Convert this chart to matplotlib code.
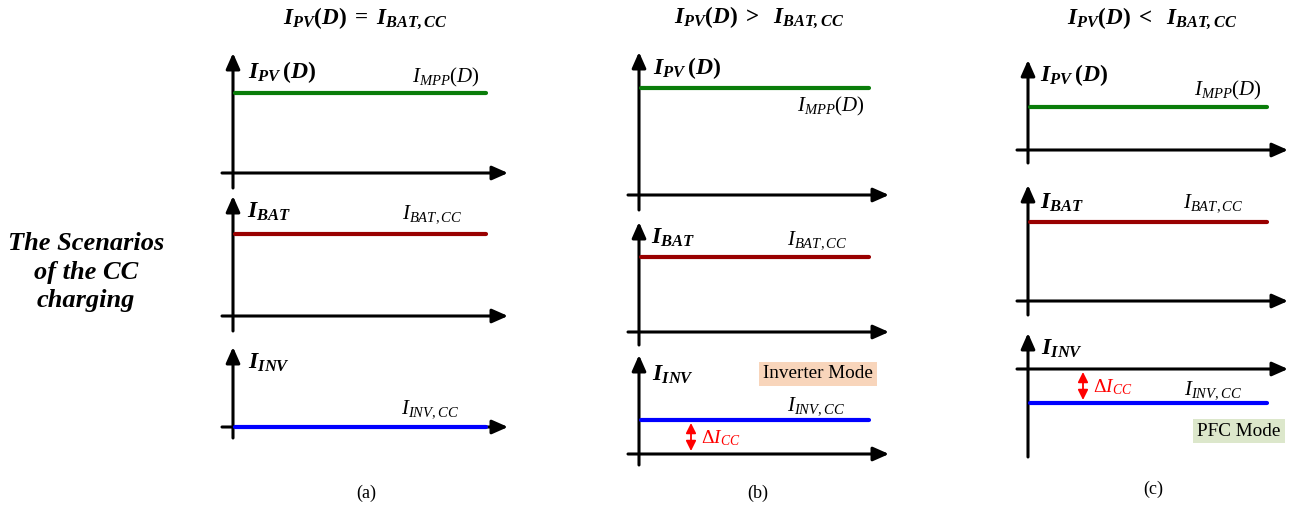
import matplotlib
matplotlib.use("Agg")
import matplotlib.pyplot as plt

plt.rcParams.update({
    "font.family": "Liberation Serif",
    "mathtext.fontset": "custom",
    "mathtext.rm": "Liberation Serif",
    "mathtext.it": "Liberation Serif:italic",
    "mathtext.bf": "Liberation Serif:bold",
    "mathtext.bfit": "Liberation Serif:italic:bold",
})

## scenario data
captions = ["(a)", "(b)", "(c)"]
titles = [
    r"$\mathbfit{I}_{\mathbfit{PV}}\mathbf{(}\mathbfit{D}\mathbf{)}\ \mathbf{=}\ \mathbfit{I}_{\mathbfit{BAT,CC}}$",
    r"$\mathbfit{I}_{\mathbfit{PV}}\mathbf{(}\mathbfit{D}\mathbf{)}\ \mathbf{>}\ \ \mathbfit{I}_{\mathbfit{BAT,CC}}$",
    r"$\mathbfit{I}_{\mathbfit{PV}}\mathbf{(}\mathbfit{D}\mathbf{)}\ \mathbf{<}\ \ \mathbfit{I}_{\mathbfit{BAT,CC}}$",
]
signal_names = [r"$\mathbfit{I}_{\mathbfit{PV}}\,\mathbf{(}\mathbfit{D}\mathbf{)}$",
                r"$\mathbfit{I}_{\mathbfit{BAT}}$",
                r"$\mathbfit{I}_{\mathbfit{INV}}$"]
level_names = [r"$I_{MPP}(D)$", r"$I_{BAT,CC}$", r"$I_{INV,CC}$"]
colors = ["#0a7d0a", "#990000", "#0000ff"]

# current levels above each zero axis (schematic units)
i_pv = [80, 107, 43]
i_bat = [82, 75, 79]
i_inv = [0, 34, -34]
modes = [None, "Inverter Mode", "PFC Mode"]
mode_colors = [None, "#f8d5bb", "#dce7cb"]

## layout (pixels)
col_x = [233, 639, 1028]
axis_left = [222, 628, 1017]
axis_tip = [508, 889, 1288]
line_end = [486, 869, 1267]
zero_y = [[173, 316, 427], [195, 332, 454], [150, 301, 369]]
tip_y = [[53, 196, 347], [52, 222, 355], [60, 185, 333]]
foot_y = [[188, 331, 438], [210, 345, 465], [163, 315, 457]]
name_pos = [[(248, 72), (247, 212), (248, 363)],
            [(653, 68), (651, 238), (652, 375)],
            [(1040, 75), (1040, 203), (1041, 349)]]
value_pos = [[(480, 77), (462, 214), (459, 409)],
             [(865, 106), (847, 240), (845, 406)],
             [(1262, 90), (1243, 203), (1242, 390)]]
title_pos = [(365, 18), (759, 17), (1152, 18)]
caption_pos = [(366, 493), (758, 493), (1153, 489)]
delta_x = [None, 691, 1083]
mode_pos = [None, (818, 374), (1239, 431)]

fig = plt.figure(figsize=(12.96, 5.12), dpi=100)
ax = fig.add_axes([0, 0, 1, 1])
ax.set_xlim(0, 1296)
ax.set_ylim(512, 0)
ax.axis("off")

arrow = dict(arrowstyle="-|>,head_length=0.95,head_width=0.42", color="k",
             lw=2.2, mutation_scale=10, shrinkA=0, shrinkB=0)

for c in range(3):
    levels = [i_pv[c], i_bat[c], i_inv[c]]
    for r in range(3):
        y0 = zero_y[c][r]
        # axes
        ax.annotate("", xy=(axis_tip[c], y0), xytext=(axis_left[c], y0), arrowprops=arrow)
        ax.annotate("", xy=(col_x[c], tip_y[c][r]), xytext=(col_x[c], foot_y[c][r]), arrowprops=arrow)
        # constant current level
        yl = y0 - levels[r]
        ax.plot([col_x[c] + 2, line_end[c]], [yl, yl], color=colors[r], lw=3.0,
                solid_capstyle="round", zorder=5)
        ax.text(*name_pos[c][r], signal_names[r], fontsize=17, ha="left", va="center")
        ax.text(*value_pos[c][r], level_names[r], fontsize=15, ha="right", va="center")

    ax.text(*title_pos[c], titles[c], fontsize=16.7, ha="center", va="center")
    ax.text(*caption_pos[c], captions[c], fontsize=13, ha="center", va="center")

    if modes[c]:
        # inverter current offset
        y0 = zero_y[c][2]
        yl = y0 - i_inv[c]
        s = 1 if yl > y0 else -1
        ax.annotate("", xy=(delta_x[c], yl - 3 * s), xytext=(delta_x[c], y0 + 3 * s),
                    arrowprops=dict(arrowstyle="<|-|>,head_length=0.6,head_width=0.3",
                                    color="red", lw=1.3, mutation_scale=10,
                                    shrinkA=0, shrinkB=0))
        ax.text(delta_x[c] + 10, (y0 + yl) / 2 + 1, r"$\Delta I_{CC}$", color="red",
                fontsize=14, ha="left", va="center")
        ax.text(*mode_pos[c], modes[c], fontsize=13.8, ha="center", va="center",
                bbox=dict(boxstyle="square,pad=0.2", fc=mode_colors[c], ec="none"))

ax.text(86, 272, "The Scenarios\nof the CC\ncharging", fontsize=19, fontweight="bold",
        fontstyle="italic", ha="center", va="center", linespacing=1.32)

fig.savefig("out.png", dpi=100)
